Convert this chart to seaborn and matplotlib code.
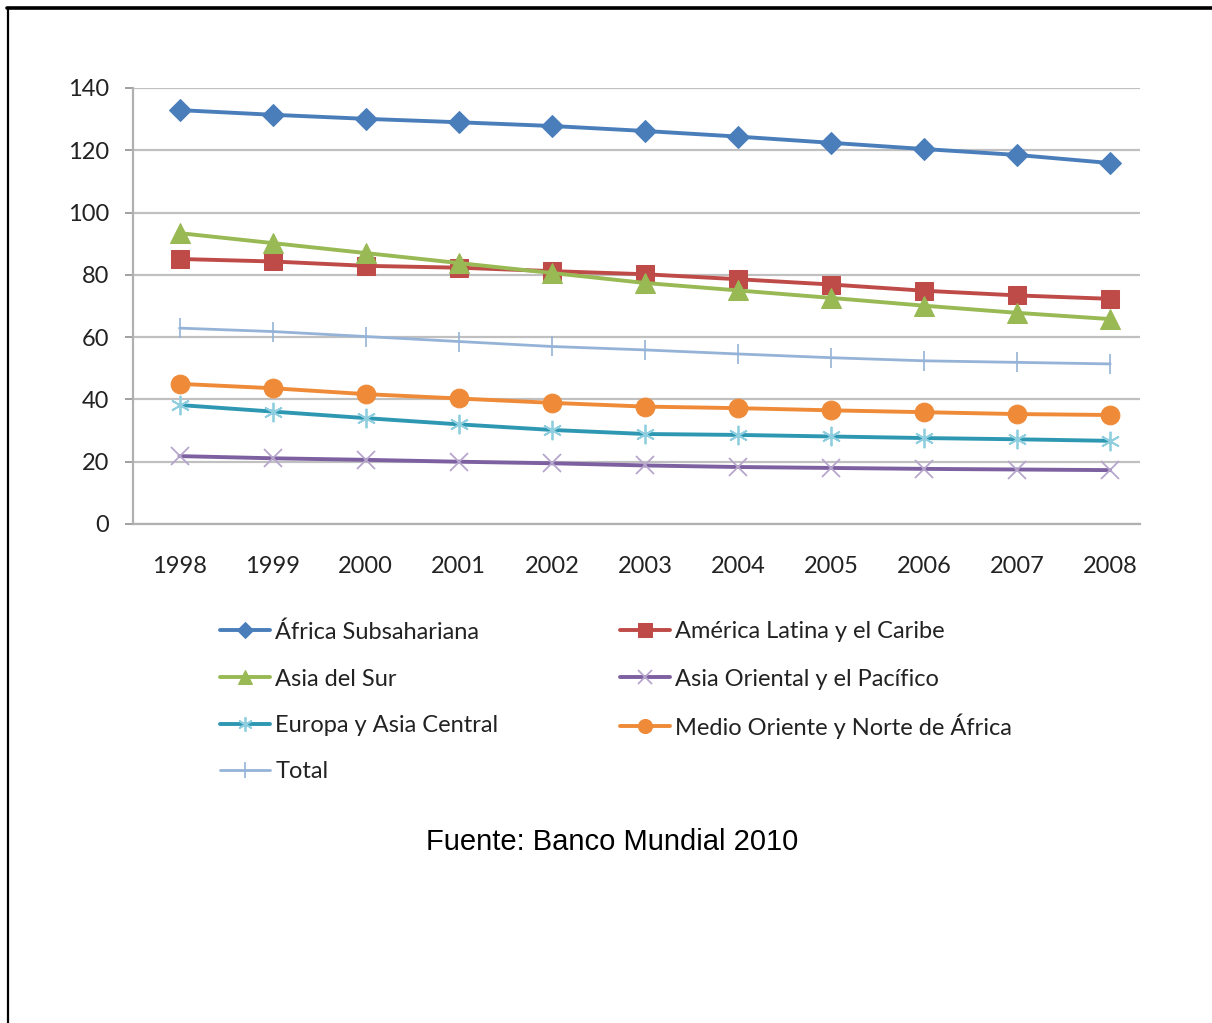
import pandas as pd
import matplotlib.pyplot as plt
import seaborn as sns
from matplotlib.lines import Line2D
from matplotlib.ticker import MultipleLocator

# Datos
years = [1998, 1999, 2000, 2001, 2002, 2003, 2004, 2005, 2006, 2007, 2008]

africa_sub = [132.9, 131.4, 130.1, 129.0, 127.8, 126.2, 124.4, 122.4, 120.4, 118.5, 115.9]
america_lat = [85.1, 84.3, 82.9, 82.3, 81.2, 80.2, 78.6, 76.9, 74.9, 73.4, 72.3]
asia_sur = [93.4, 90.2, 87.0, 83.8, 80.6, 77.4, 75.0, 72.6, 70.1, 67.8, 65.8]
asia_oriental = [21.8, 21.1, 20.6, 20.0, 19.5, 18.8, 18.3, 18.0, 17.7, 17.5, 17.3]
europa_asia = [38.2, 36.1, 34.0, 32.0, 30.2, 28.9, 28.6, 28.1, 27.6, 27.2, 26.7]
medio_oriente = [45.0, 43.6, 41.7, 40.3, 38.9, 37.7, 37.2, 36.5, 35.9, 35.3, 35.0]
total = [62.9, 61.8, 60.2, 58.6, 57.0, 55.9, 54.6, 53.4, 52.4, 51.9, 51.4]

series_names = ["África Subsahariana", "América Latina y el Caribe", "Asia del Sur",
                "Asia Oriental y el Pacífico", "Europa y Asia Central",
                "Medio Oriente y Norte de África", "Total"]
series_values = [africa_sub, america_lat, asia_sur, asia_oriental, europa_asia,
                 medio_oriente, total]

rows = []
for name, vals in zip(series_names, series_values):
    for yr, v in zip(years, vals):
        rows.append({"Año": yr, "Valor": v, "Región": name})
df = pd.DataFrame(rows)

# Estilo de cada serie (al estilo Excel 2007)
styles = {
    "África Subsahariana": dict(color="#4A7EBB", marker="D", markersize=11,
                                markerfacecolor="#4A7EBB", markeredgecolor="#4A7EBB", linewidth=2.8),
    "América Latina y el Caribe": dict(color="#BE4B48", marker="s", markersize=13.5,
                                       markerfacecolor="#BE4B48", markeredgecolor="#BE4B48", linewidth=2.8),
    "Asia del Sur": dict(color="#98B954", marker="^", markersize=14,
                         markerfacecolor="#98B954", markeredgecolor="#98B954", linewidth=2.8),
    "Asia Oriental y el Pacífico": dict(color="#7D60A0", marker="x", markersize=13,
                                        markeredgecolor="#B7A6CC", markeredgewidth=1.3, linewidth=2.8),
    "Europa y Asia Central": dict(color="#2E98B3", marker=(6, 2, 0), markersize=14,
                                  markeredgecolor="#8FCEDE", markeredgewidth=1.3, linewidth=2.8),
    "Medio Oriente y Norte de África": dict(color="#EE8A38", marker="o", markersize=13.5,
                                            markerfacecolor="#EE8A38", markeredgecolor="#EE8A38", linewidth=2.8),
    "Total": dict(color="#95B3D7", marker="|", markersize=15,
                  markeredgecolor="#95B3D7", markeredgewidth=1.2, linewidth=2.0),
}

sns.set_style("white")
plt.rcParams['font.family'] = ['Lato', 'DejaVu Sans']

fig = plt.figure(figsize=(12.12, 10.23), dpi=100)
ax = fig.add_axes([133 / 1212, 1 - 524 / 1023, (1140 - 133) / 1212, (524 - 88) / 1023])

for name in series_names:
    sub = df[df["Región"] == name]
    sns.lineplot(data=sub, x="Año", y="Valor", ax=ax, label=name, legend=False,
                 errorbar=None, **styles[name])

ax.set_xlim(1997.5, 2008.32)
ax.set_ylim(0, 140)
ax.set_xlabel("")
ax.set_ylabel("")
ax.set_xticks(years)
ax.set_xticklabels([str(y) for y in years])
ax.xaxis.set_minor_locator(MultipleLocator(1, offset=0.5))
ax.yaxis.set_major_locator(MultipleLocator(20))

ax.grid(axis="y", color="#C0C0C0", linewidth=1.6)
ax.set_axisbelow(True)
for side in ["top", "right"]:
    ax.spines[side].set_visible(False)
for side in ["left", "bottom"]:
    ax.spines[side].set_color("#B0B0B0")
    ax.spines[side].set_linewidth(1.6)

ax.tick_params(axis="x", which="major", length=0, pad=23, labelsize=17, labelcolor="#222222")
ax.tick_params(axis="x", which="minor", length=7, width=1.4, color="#A0A0A0", direction="out")
ax.tick_params(axis="y", length=6, width=1.4, color="#A0A0A0", pad=11, labelsize=17,
               labelcolor="#222222", left=True)

# Leyenda en dos columnas debajo del gráfico (una entrada por fila)
handles, labels = ax.get_legend_handles_labels()
leg_pos = [(220, 632), (620, 632), (220, 679), (620, 679), (220, 726), (620, 726), (220, 772)]
for h, lab, (px, py) in zip(handles, labels, leg_pos):
    fig.legend([h], [lab], frameon=False, fontsize=17, handlelength=2.1, handletextpad=0.25,
               borderpad=0, borderaxespad=0, loc="center left", labelcolor="#222222",
               markerscale=0.75, bbox_to_anchor=(px / 1212, 1 - py / 1023))

fig.text(612 / 1212, 1 - 842 / 1023, "Fuente: Banco Mundial 2010", ha="center", va="center",
         fontsize=21, family=["Liberation Sans", "DejaVu Sans"], color="black")

# Marco de la celda (arriba e izquierda)
fig.add_artist(Line2D([7 / 1212, 1.0], [1 - 8 / 1023, 1 - 8 / 1023], color="black",
                      linewidth=2.6, transform=fig.transFigure))
fig.add_artist(Line2D([8 / 1212, 8 / 1212], [0.0, 1 - 8 / 1023], color="black",
                      linewidth=1.6, transform=fig.transFigure))

plt.savefig("out.png", dpi=100, facecolor="white")
